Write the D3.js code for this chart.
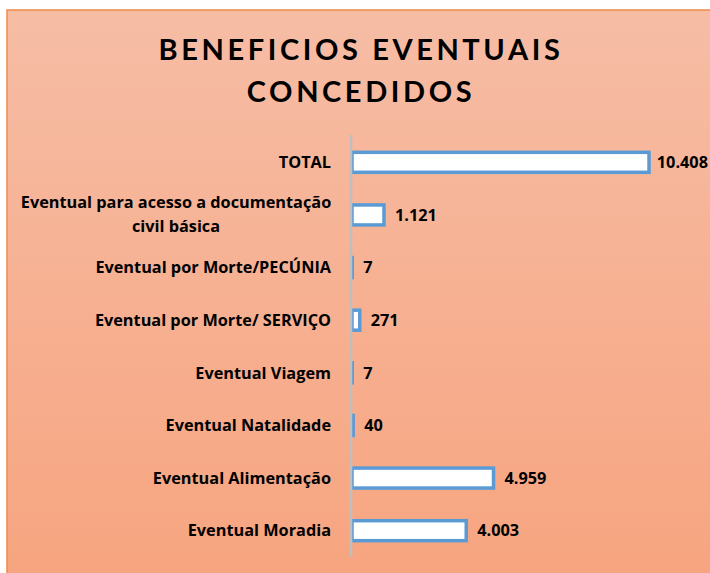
<!DOCTYPE html>
<html>
<head>
<meta charset="utf-8">
<script src="https://cdn.jsdelivr.net/npm/d3@7"></script>
<style>
  body { margin: 0; background: #fff; }
  text { font-family: "Open Sans", Lato, sans-serif; font-weight: bold; fill: #000; }
  .title { font-family: Lato, "Open Sans", sans-serif; }
</style>
</head>
<body>
<svg id="chart" width="710" height="573"></svg>
<script>
// categories top to bottom, values as shown on the labels
var categories = ["TOTAL", "Eventual para acesso a documentação|civil básica", "Eventual por Morte/PECÚNIA",
                  "Eventual por Morte/ SERVIÇO", "Eventual Viagem", "Eventual Natalidade",
                  "Eventual Alimentação", "Eventual Moradia"];
var values = [10408, 1121, 7, 271, 7, 40, 4959, 4003];
var titleLines = ["BENEFICIOS EVENTUAIS", "CONCEDIDOS"];

var svg = d3.select("#chart");

// background gradient
var defs = svg.append("defs");
var grad = defs.append("linearGradient").attr("id", "bg")
    .attr("x1", 0).attr("y1", 0).attr("x2", 0).attr("y2", 1);
grad.append("stop").attr("offset", "0%").attr("stop-color", "#F6BDA5");
grad.append("stop").attr("offset", "100%").attr("stop-color", "#F7A47F");

svg.append("rect")
    .attr("x", 7).attr("y", 10)
    .attr("width", 710).attr("height", 580)
    .attr("fill", "url(#bg)")
    .attr("stroke", "#F08A4B")
    .attr("stroke-width", 1.5);

// title
svg.selectAll(".title")
    .data(titleLines)
    .enter().append("text")
    .attr("class", "title")
    .attr("x", 361)
    .attr("y", function(d, i) { return 60 + i * 42; })
    .attr("text-anchor", "middle")
    .style("font-size", "29px")
    .style("letter-spacing", "3.6px")
    .text(function(d) { return d; });

var x = d3.scaleLinear().domain([0, 10408]).range([352, 649]);
var y = d3.scaleBand().domain(categories).range([136, 557]).paddingInner(0.62).paddingOuter(0.31);

var ptBR = d3.formatLocale({ decimal: ",", thousands: ".", grouping: [3], currency: ["R$", ""] });
var fmt = ptBR.format(",d");

// bars
svg.selectAll(".bar")
    .data(values)
    .enter().append("rect")
    .attr("class", "bar")
    .attr("x", x(0))
    .attr("y", function(d, i) { return y(categories[i]); })
    .attr("width", function(d) { return Math.max(0.1, x(d) - x(0)); })
    .attr("height", y.bandwidth())
    .attr("fill", "#fff")
    .attr("stroke", "#5B9BD5")
    .attr("stroke-width", 3.5);

// axis line
svg.append("line")
    .attr("x1", 351).attr("x2", 351)
    .attr("y1", 135).attr("y2", 557)
    .attr("stroke", "#BFBFBF")
    .attr("stroke-width", 2.5);

// category labels
var labels = svg.selectAll(".cat")
    .data(categories)
    .enter().append("text")
    .attr("class", "cat")
    .attr("y", function(d) { return y(d) + y.bandwidth() / 2; })
    .style("font-size", "16.3px");

labels.each(function(d) {
    var parts = d.split("|");
    var t = d3.select(this);
    if (parts.length == 1) {
        t.attr("x", 331).attr("text-anchor", "end").attr("dy", "0.35em").text(d);
    } else {
        t.attr("text-anchor", "middle");
        parts.forEach(function(p, j) {
            t.append("tspan").attr("x", 176)
                .attr("dy", j == 0 ? "-0.42em" : "1.45em")
                .text(p);
        });
    }
});

// value labels, pushed back inside the chart when they would overflow
svg.selectAll(".val")
    .data(values)
    .enter().append("text")
    .attr("class", "val")
    .attr("x", function(d) { return x(d) + 11; })
    .attr("y", function(d, i) { return y(categories[i]) + y.bandwidth() / 2; })
    .attr("dy", "0.35em")
    .style("font-size", "16.3px")
    .text(function(d) { return fmt(d); })
    .each(function(d) {
        var w = this.getComputedTextLength();
        if (x(d) + 11 + w > 708) d3.select(this).attr("x", 708 - w);
    });
</script>
</body>
</html>
